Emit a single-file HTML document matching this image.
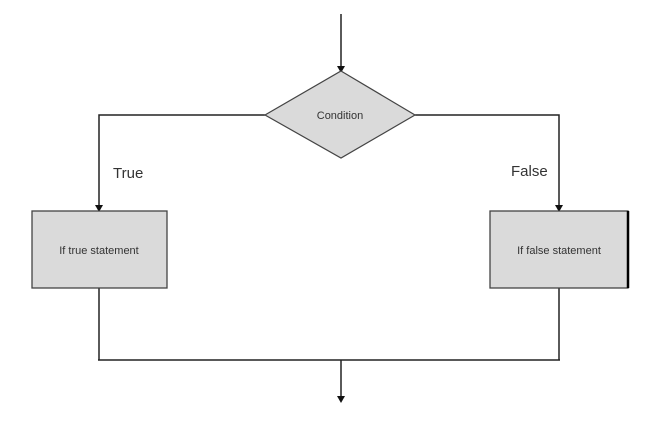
<!DOCTYPE html>
<html><head><meta charset="utf-8"><style>
html,body{margin:0;padding:0;background:#fff;}
svg{display:block}
text{font-family:"Liberation Sans",sans-serif;fill:#333}
</style></head><body>
<svg width="659" height="422" viewBox="0 0 659 422" xmlns="http://www.w3.org/2000/svg">
<g stroke="#222" stroke-width="1.5" fill="none">
<line x1="341" y1="14" x2="341" y2="68"/>
<polyline points="265,115 99,115 99,208"/>
<polyline points="415,115 559,115 559,208"/>
<line x1="99" y1="288" x2="99" y2="360"/>
<line x1="559" y1="288" x2="559" y2="360"/>
<line x1="98" y1="360" x2="560" y2="360"/>
<line x1="341" y1="360" x2="341" y2="398"/>
</g>
<g fill="#111">
<polygon points="337,66 345,66 341,73"/>
<polygon points="95,205 103,205 99,212"/>
<polygon points="555,205 563,205 559,212"/>
<polygon points="337,396 345,396 341,403"/>
</g>
<polygon points="341,71 415,115 341,158 265,115" fill="#dadada" stroke="#444" stroke-width="1.2"/>
<rect x="32" y="211" width="135" height="77" fill="#dadada" stroke="#444" stroke-width="1.3"/>
<rect x="490" y="211" width="138" height="77" fill="#dadada" stroke="#444" stroke-width="1.3"/>
<line x1="628" y1="211" x2="628" y2="288" stroke="#000" stroke-width="2.5"/>
<text x="340" y="119" font-size="11" text-anchor="middle">Condition</text>
<text x="99" y="254" font-size="11" text-anchor="middle">If true statement</text>
<text x="559" y="254" font-size="11" text-anchor="middle">If false statement</text>
<text x="113" y="178" font-size="15">True</text>
<text x="511" y="176" font-size="15">False</text>
</svg>
</body></html>
